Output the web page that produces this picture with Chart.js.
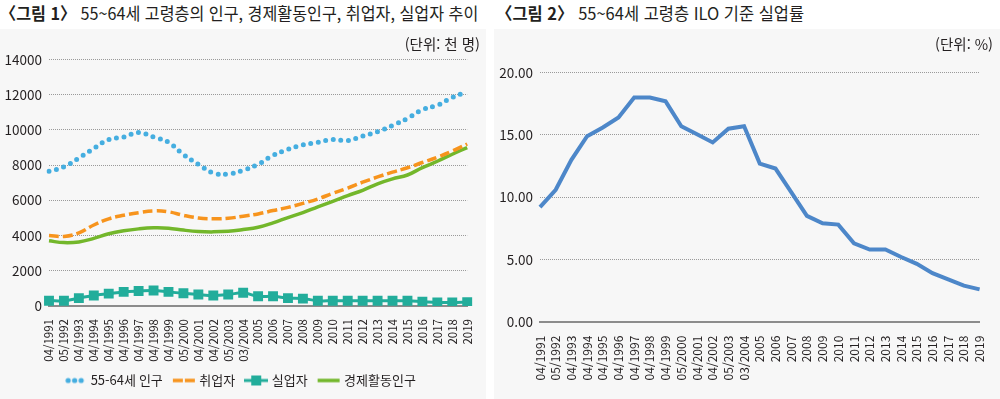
<!DOCTYPE html>
<html lang="ko">
<head>
<meta charset="utf-8">
<script src="https://cdn.jsdelivr.net/npm/chart.js@4.4.1/dist/chart.umd.min.js"></script>
<style>
  html, body { margin: 0; padding: 0; background: #fff; }
  body { width: 1000px; height: 399px; position: relative; overflow: hidden;
         font-family: 'Noto Sans CJK KR', 'Noto Sans', sans-serif; color: #231f20; }
  .title { position: absolute; top: 1px; font-size: 17px; line-height: 24px; white-space: nowrap; transform-origin: left center; }
  .title b { font-weight: 700; }
  .panel { position: absolute; top: 29px; height: 370px; background: #f7f7f7; }
  .unit { position: absolute; top: 5px; font-size: 14.5px; line-height: 20px; white-space: nowrap; }
  .box { position: absolute; left: 0; top: 0; width: 100%; height: 100%; }
</style>
</head>
<body>
<div class="title" id="title1" style="left:0"><b>〈그림 1〉</b> 55~64세 고령층의 인구, 경제활동인구, 취업자, 실업자 추이</div>
<div class="title" id="title2" style="left:496px"><b>〈그림 2〉</b> 55~64세 고령층 ILO 기준 실업률</div>

<div class="panel" style="left:0; width:486px">
  <div class="box"><canvas id="leftChart"></canvas></div>
  <div class="unit" style="right:6px">(단위: 천 명)</div>
</div>
<div class="panel" style="left:494px; width:506px">
  <div class="box"><canvas id="rightChart"></canvas></div>
  <div class="unit" style="right:7px">(단위: %)</div>
</div>

<script>
const periods = ['04/1991', '05/1992', '04/1993', '04/1994', '04/1995', '04/1996', '04/1997', '04/1998',
  '04/1999', '05/2000', '04/2001', '04/2002', '05/2003', '03/2004', '2005', '2006', '2007', '2008',
  '2009', '2010', '2011', '2012', '2013', '2014', '2015', '2016', '2017', '2018', '2019'];

// 천 명
const population = [7650, 7900, 8400, 8950, 9450, 9600, 9850, 9600, 9300, 8600, 8050, 7550, 7500, 7700,
  8050, 8550, 8900, 9150, 9300, 9450, 9400, 9650, 9900, 10250, 10650, 11150, 11400, 11850, 12150];
const employed = [4000, 3950, 4150, 4600, 4950, 5150, 5300, 5400, 5350, 5150, 5000, 4950, 4980, 5100,
  5230, 5420, 5600, 5830, 6080, 6400, 6700, 7030, 7330, 7600, 7850, 8150, 8450, 8800, 9200];
const unemployed = [300, 300, 450, 600, 700, 800, 850, 880, 800, 720, 650, 600, 650, 750,
  550, 550, 450, 420, 300, 300, 300, 300, 300, 300, 300, 250, 200, 200, 220];
const active = [3700, 3600, 3640, 3840, 4100, 4270, 4380, 4440, 4420, 4310, 4230, 4210, 4240, 4340,
  4470, 4720, 5020, 5300, 5630, 5940, 6270, 6570, 6940, 7220, 7440, 7860, 8220, 8620, 9000];

// %
const unemploymentRate = [9.2, 10.6, 13.0, 14.9, 15.6, 16.4, 18.0, 18.0, 17.7, 15.7, 15.05, 14.4, 15.5, 15.7,
  12.7, 12.3, 10.4, 8.5, 7.9, 7.8, 6.3, 5.8, 5.8, 5.2, 4.65, 3.9, 3.4, 2.9, 2.6];

const leftTicks = { min: 0, max: 14000, step: 2000 };
const rightTicks = { min: 0, max: 20, step: 5 };

const TEXT = '#231f20';
const BLUE_DOT = '#45aee0';
const ORANGE = '#f7941d';
const TEAL = '#22ad9b';
const GREEN = '#73b72b';
const RATE_BLUE = '#4d87c9';

Chart.defaults.font.family = "'Noto Sans CJK KR', 'Noto Sans', sans-serif";
Chart.defaults.color = TEXT;

function fitTitle(id, width) {
  const el = document.getElementById(id);
  el.style.transform = `scaleX(${width / el.offsetWidth})`;
}
fitTitle('title1', 478);
fitTitle('title2', 308);

// little legend pictures, like the ones in the report
function legendMark(kind, color) {
  const c = document.createElement('canvas');
  c.width = 24;
  c.height = 12;
  const g = c.getContext('2d');
  g.fillStyle = color;
  g.strokeStyle = color;
  if (kind === 'dots') {
    for (let i = 0; i < 3; i++) {
      g.beginPath();
      g.arc(5 + i * 6.5, 6, 2.6, 0, Math.PI * 2);
      g.fill();
    }
  } else if (kind === 'dash') {
    g.lineWidth = 3.5;
    g.setLineDash([10, 2]);
    g.beginPath(); g.moveTo(1, 6); g.lineTo(23, 6); g.stroke();
  } else if (kind === 'square') {
    g.lineWidth = 3;
    g.beginPath(); g.moveTo(0, 6); g.lineTo(24, 6); g.stroke();
    g.fillRect(7, 1, 10, 10);
  } else {
    g.lineWidth = 3.5;
    g.beginPath(); g.moveTo(1, 6); g.lineTo(23, 6); g.stroke();
  }
  return c;
}

const gridStyle = { color: '#9a9a9a', lineWidth: 1, drawTicks: false };

new Chart(document.getElementById('leftChart'), {
  type: 'line',
  data: {
    labels: periods,
    datasets: [
      {
        label: '55-64세 인구',
        data: population,
        borderColor: BLUE_DOT,
        borderWidth: 5,
        borderDash: [0, 7.6],
        borderCapStyle: 'round',
        pointRadius: 0,
        tension: 0.4,
        mark: legendMark('dots', BLUE_DOT)
      },
      {
        label: '취업자',
        data: employed,
        borderColor: ORANGE,
        borderWidth: 3.5,
        borderDash: [10, 4],
        pointRadius: 0,
        tension: 0.4,
        mark: legendMark('dash', ORANGE)
      },
      {
        label: '실업자',
        data: unemployed,
        borderColor: TEAL,
        borderWidth: 3,
        pointStyle: 'rect',
        pointRadius: 7,
        pointBackgroundColor: TEAL,
        pointBorderWidth: 0,
        tension: 0.4,
        mark: legendMark('square', TEAL)
      },
      {
        label: '경제활동인구',
        data: active,
        borderColor: GREEN,
        borderWidth: 3.5,
        pointRadius: 0,
        tension: 0.4,
        mark: legendMark('line', GREEN)
      }
    ]
  },
  options: {
    responsive: true,
    maintainAspectRatio: false,
    animation: false,
    layout: { padding: { top: 30.5, right: 4, left: 0, bottom: 2 } },
    plugins: {
      tooltip: { enabled: false },
      legend: {
        position: 'bottom',
        labels: {
          font: { size: 13 },
          color: TEXT,
          usePointStyle: true,
          pointStyleWidth: 18,
          padding: 12,
          generateLabels: (chart) => chart.data.datasets.map((ds, i) => ({
            text: ds.label,
            pointStyle: ds.mark,
            fontColor: TEXT,
            fillStyle: 'transparent',
            strokeStyle: 'transparent',
            lineWidth: 0,
            hidden: false,
            datasetIndex: i
          }))
        }
      }
    },
    scales: {
      x: {
        grid: { display: false },
        border: { display: true, color: '#8c8c8c', width: 2 },
        ticks: { autoSkip: false, minRotation: 90, maxRotation: 90, padding: 5, font: { size: 11.5 }, color: TEXT },
        afterFit: (s) => { s.height = 56; }
      },
      y: {
        min: leftTicks.min,
        max: leftTicks.max,
        grid: gridStyle,
        border: { display: false, dash: [1, 1] },
        ticks: { stepSize: leftTicks.step, padding: 7, font: { size: 13.5 }, color: TEXT,
                 callback: (v) => String(v) },
        afterFit: (s) => { s.width = 49; }
      }
    }
  }
});

new Chart(document.getElementById('rightChart'), {
  type: 'line',
  data: {
    labels: periods,
    datasets: [{
      label: '실업률',
      data: unemploymentRate,
      borderColor: RATE_BLUE,
      borderWidth: 4,
      pointRadius: 0,
      tension: 0
    }]
  },
  options: {
    responsive: true,
    maintainAspectRatio: false,
    animation: false,
    layout: { padding: { top: 43.7, right: 5, left: 0, bottom: 17.3 } },
    plugins: { legend: { display: false }, tooltip: { enabled: false } },
    scales: {
      x: {
        grid: { display: false },
        border: { display: true, color: '#8c8c8c', width: 2 },
        ticks: { autoSkip: false, minRotation: 90, maxRotation: 90, padding: 6, font: { size: 12 }, color: TEXT },
        afterFit: (s) => { s.height = 60; }
      },
      y: {
        min: rightTicks.min,
        max: rightTicks.max,
        grid: gridStyle,
        border: { display: false, dash: [1, 1] },
        ticks: { stepSize: rightTicks.step, padding: 7, font: { size: 13.5 }, color: TEXT,
                 callback: (v) => v.toFixed(2) },
        afterFit: (s) => { s.width = 46; }
      }
    }
  }
});
</script>
</body>
</html>
